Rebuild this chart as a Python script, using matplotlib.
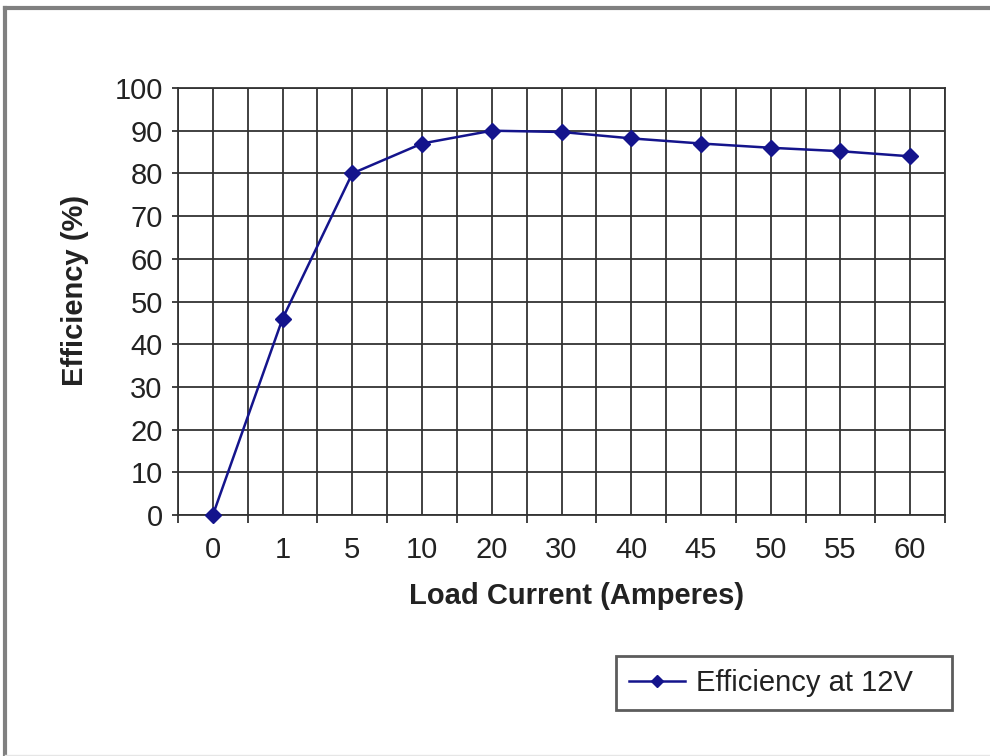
import matplotlib
matplotlib.use("Agg")
import matplotlib.pyplot as plt
from matplotlib.lines import Line2D
import numpy as np

categories = ["0", "1", "5", "10", "20", "30", "40", "45", "50", "55", "60"]
efficiency = [0, 46, 80, 87, 90, 89.7, 88.2, 87, 86, 85.2, 84]
y_ticks = [0, 10, 20, 30, 40, 50, 60, 70, 80, 90, 100]

plt.rcParams['font.family'] = ['Liberation Sans', 'DejaVu Sans']

W, H = 990, 756
FS = 21
fig = plt.figure(figsize=(W / 100, H / 100), dpi=100)
fig.patch.set_facecolor('white')

ax = fig.add_axes([178 / W, (H - 515) / H, 767 / W, 427 / H])
x = np.arange(len(categories))
line_color = '#14148c'
ax.plot(x, efficiency, color=line_color, lw=1.8, marker='D', markersize=8.5,
        markerfacecolor=line_color, markeredgecolor=line_color, zorder=5,
        clip_on=False)

ax.set_xlim(-0.5, len(categories) - 0.5)
ax.set_ylim(0, 100)
ax.set_xticks(x)
ax.set_xticklabels(categories)
ax.set_xticks(np.arange(-0.5, len(categories), 1.0), minor=True)
ax.set_yticks(y_ticks)

grid_color = '#333333'
ax.grid(True, which='major', axis='both', color=grid_color, lw=1.3)
ax.grid(True, which='minor', axis='x', color=grid_color, lw=1.3)
ax.set_axisbelow(True)

ax.tick_params(axis='x', which='major', length=0, pad=15, labelsize=FS,
               labelcolor='#222222')
ax.tick_params(axis='x', which='minor', length=6, width=1.3, color=grid_color,
               direction='out')
ax.tick_params(axis='y', which='major', length=4.5, width=1.3, color=grid_color,
               pad=6.5, labelsize=FS, labelcolor='#222222')

for s in ['top', 'right', 'bottom', 'left']:
    ax.spines[s].set_color(grid_color)
    ax.spines[s].set_linewidth(1.3)

ax.set_xlabel('Load Current (Amperes)', fontsize=FS, fontweight='bold',
              color='#222222')
ax.xaxis.set_label_coords((577 - 178) / 767, -(596 - 515) / 427)
ax.xaxis.label.set_va('center')
ax.set_ylabel('Efficiency (%)', fontsize=FS, fontweight='bold',
              color='#222222')
ax.yaxis.set_label_coords(-(178 - 75) / 767, (515 - 290) / 427)
ax.yaxis.label.set_va('center')

handle = Line2D([], [], color=line_color, lw=1.8, marker='D', markersize=6.5,
                markerfacecolor=line_color, markeredgecolor=line_color)
leg = fig.legend([handle], ['Efficiency at 12V'],
                 loc='lower left',
                 bbox_to_anchor=(616 / W, (H - 710) / H, (952 - 616) / W, (710 - 653) / H),
                 mode='expand', fontsize=FS, frameon=True, fancybox=False,
                 edgecolor='#333333', handlelength=1.9, handletextpad=0.4,
                 borderaxespad=0, borderpad=0.45)
leg.get_frame().set_linewidth(2.0)
for t in leg.get_texts():
    t.set_color('#222222')

# outer border (top and left)
fig.add_artist(Line2D([5 / W, 1.0], [(H - 8) / H, (H - 8) / H], color='#808080',
                      lw=3.0, transform=fig.transFigure))
fig.add_artist(Line2D([5 / W, 5 / W], [0, (H - 8) / H], color='#808080',
                      lw=3.0, transform=fig.transFigure))
fig.add_artist(Line2D([5 / W, 1.0], [1.5 / H, 1.5 / H], color='#e6e6e6',
                      lw=1.0, transform=fig.transFigure))

fig.savefig('out.png', dpi=100, facecolor='white')
